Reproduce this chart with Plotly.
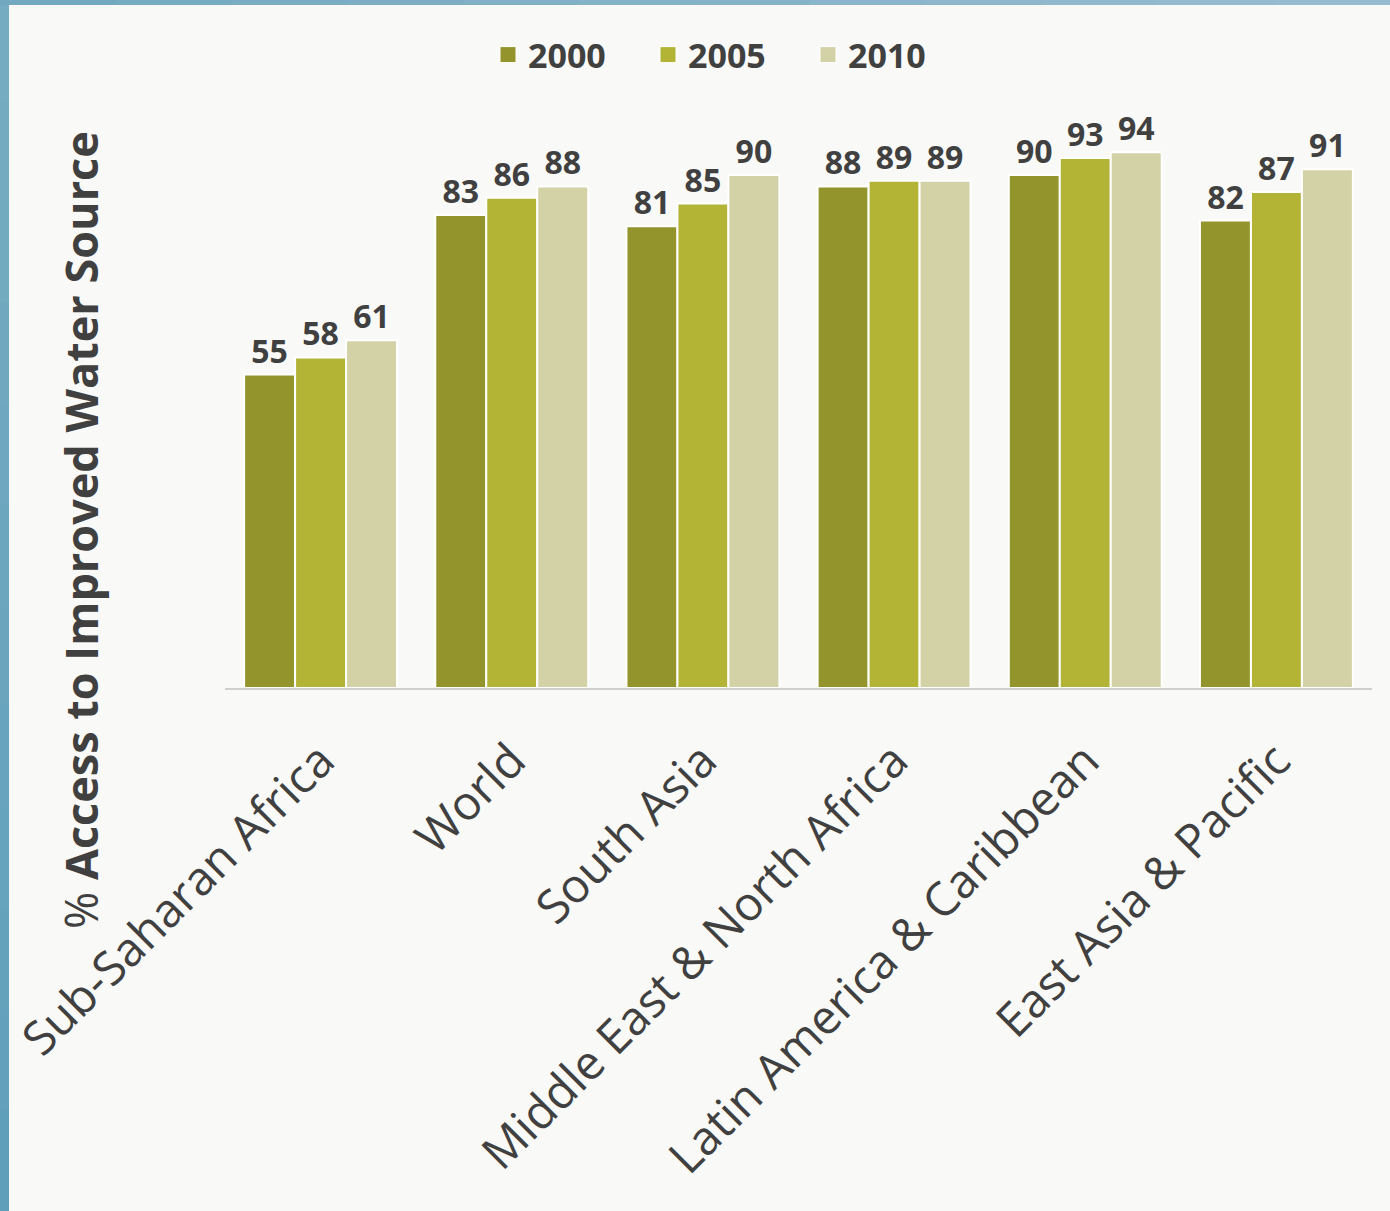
import plotly.graph_objects as go

regions = ["Sub-Saharan Africa", "World", "South Asia", "Middle East & North Africa",
           "Latin America & Caribbean", "East Asia & Pacific"]
years = ["2000", "2005", "2010"]
v2000 = [55, 83, 81, 88, 90, 82]
v2005 = [58, 86, 85, 89, 93, 87]
v2010 = [61, 88, 90, 89, 94, 91]
series = [v2000, v2005, v2010]
colors = ["#94942c", "#b3b336", "#d3d2a6"]

W_FIG, H_FIG = 1390, 1211
ML, MR, MT, MB = 225, 18, 118, 523
PW = W_FIG - ML - MR
PH = H_FIG - MT - MB
TXT = "#404040"
FONT = "Open Sans"

def px_x(p):
    return (p - ML) / PW

def px_y(p):
    return (H_FIG - MB - p) / PH

fig = go.Figure()
for name, vals, col in zip(years, series, colors):
    fig.add_trace(go.Bar(
        x=regions, y=vals, name=name, showlegend=False,
        marker=dict(color=col, line=dict(color="white", width=2)),
        text=vals, textposition="outside", cliponaxis=False,
        textfont=dict(family=FONT, size=32, color=TXT, weight="bold"),
    ))
# legend entries (larger square symbols)
for name, col in zip(years, colors):
    fig.add_trace(go.Scatter(
        x=[None], y=[None], mode="markers", name=name, showlegend=True,
        marker=dict(symbol="square", size=22, color=col, line=dict(color="white", width=1)),
    ))

shapes = []
n = 12
top_c = (0x78, 0xad, 0xc2)
bot_c = (0x5f, 0x9f, 0xba)
for i in range(n):
    t = (i + 0.5) / n
    c = tuple(int(top_c[k] + (bot_c[k] - top_c[k]) * t) for k in range(3))
    y0 = H_FIG * i / n
    y1 = H_FIG * (i + 1) / n + 1
    shapes.append(dict(type="rect", xref="paper", yref="paper",
                       x0=px_x(0), x1=px_x(9), y0=px_y(y1), y1=px_y(y0),
                       fillcolor="rgb(%d,%d,%d)" % c, line=dict(width=0), layer="above"))
l_c = (0x72, 0xa9, 0xc0)
r_c = (0x9a, 0xbd, 0xd0)
for i in range(n):
    t = (i + 0.5) / n
    c = tuple(int(l_c[k] + (r_c[k] - l_c[k]) * t) for k in range(3))
    x0 = W_FIG * i / n
    x1 = W_FIG * (i + 1) / n + 1
    shapes.append(dict(type="rect", xref="paper", yref="paper",
                       x0=px_x(x0), x1=px_x(x1), y0=px_y(5), y1=px_y(0),
                       fillcolor="rgb(%d,%d,%d)" % c, line=dict(width=0), layer="above"))

fig.update_layout(
    width=W_FIG, height=H_FIG,
    margin=dict(l=ML, r=MR, t=MT, b=MB, autoexpand=False),
    paper_bgcolor="#f9f9f7", plot_bgcolor="#f9f9f7",
    barmode="group", bargap=0.2, bargroupgap=0,
    font=dict(family=FONT, color=TXT),
    showlegend=True,
    legend=dict(orientation="h", x=px_x(488), y=px_y(55), xanchor="left", yanchor="middle",
                font=dict(family=FONT, size=34, color=TXT, weight="bold"),
                bgcolor="rgba(0,0,0,0)", itemwidth=30, entrywidth=115),
    xaxis=dict(tickangle=-45, tickfont=dict(family=FONT, size=47, color=TXT),
               showgrid=False, zeroline=False, showline=True, linecolor="#cfcfcf",
               linewidth=2, ticks="", ticklabelstandoff=24),
    yaxis=dict(range=[0, 100], visible=False, showgrid=False, zeroline=False),
    shapes=shapes,
    annotations=[dict(text="% <b>Access to Improved Water Source</b>", textangle=-90,
                      xref="paper", yref="paper", x=px_x(80), y=px_y(530),
                      xanchor="center", yanchor="middle", showarrow=False,
                      font=dict(family=FONT, size=45, color=TXT))],
)

fig.write_html("out.html", config={"displayModeBar": False},
               post_script="document.body.style.margin='0';document.body.style.overflow='hidden';")
